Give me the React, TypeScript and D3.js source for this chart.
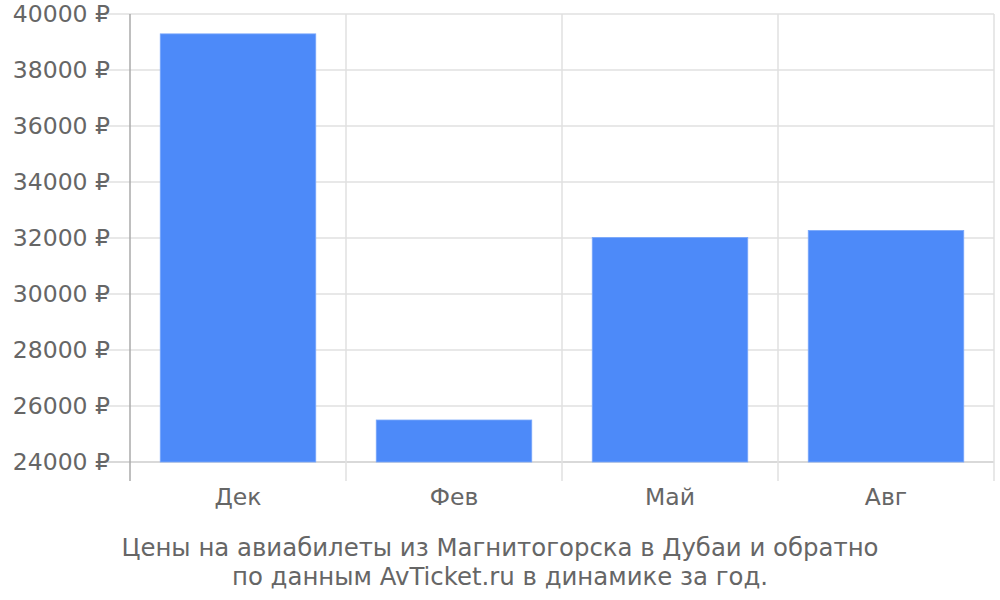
import { useMemo } from "react";
import * as d3 from "d3";

const months = ["Дек", "Фев", "Май", "Авг"];
const prices = [39290, 25500, 32020, 32270];
const yTicks = [24000, 26000, 28000, 30000, 32000, 34000, 36000, 38000, 40000];
const titleLines = [
  "Цены на авиабилеты из Магнитогорска в Дубаи и обратно",
  "по данным AvTicket.ru в динамике за год.",
];

const width = 1000;
const height = 600;
const margin = { top: 14, right: 6, bottom: 138, left: 130 };

const App = () => {
  const innerW = width - margin.left - margin.right;
  const innerH = height - margin.top - margin.bottom;

  const x = useMemo(
    () => d3.scaleBand<string>().domain(months).range([0, innerW]),
    [innerW]
  );
  const xBar = useMemo(
    () =>
      d3
        .scaleBand<string>()
        .domain(months)
        .range([0, innerW])
        .paddingInner(0.28)
        .paddingOuter(0.14),
    [innerW]
  );
  const y = useMemo(
    () => d3.scaleLinear().domain([24000, 40000]).range([innerH, 0]),
    [innerH]
  );

  const font = "'DejaVu Sans', sans-serif";
  const bounds = [...months.map((m) => x(m) ?? 0), innerW];

  return (
    <div style={{ position: "absolute", left: 0, top: 0 }}>
      <svg width={width} height={height} style={{ display: "block" }}>
        <rect width={width} height={height} fill="#fff" />
        <g transform={`translate(${margin.left},${margin.top})`}>
          {/* horizontal grid */}
          {yTicks.map((t) => (
            <line
              key={t}
              x1={-26}
              x2={innerW}
              y1={y(t)}
              y2={y(t)}
              stroke={t === 24000 ? "#cccccc" : "#e0e0e0"}
              strokeWidth={1.5}
            />
          ))}
          {/* vertical grid + category ticks */}
          {bounds.map((b, i) => (
            <line
              key={i}
              x1={b}
              x2={b}
              y1={0}
              y2={innerH + 19}
              stroke={i === 0 ? "#aaaaaa" : "#e0e0e0"}
              strokeWidth={1.5}
            />
          ))}
          {prices.map((p, i) => (
            <rect
              key={months[i]}
              x={xBar(months[i])}
              y={y(p)}
              width={xBar.bandwidth()}
              height={innerH - y(p)}
              fill="#4d8af9"
              stroke="#7aa8fb"
              strokeWidth={0.8}
            />
          ))}
          {yTicks.map((t) => (
            <text
              key={t}
              x={-20}
              y={y(t)}
              dy="0.35em"
              textAnchor="end"
              fontFamily={font}
              fontSize={23.5}
              fill="#666666"
            >
              {`${t} ₽`}
            </text>
          ))}
          {months.map((m) => (
            <text
              key={m}
              x={(x(m) ?? 0) + x.bandwidth() / 2}
              y={innerH + 43}
              textAnchor="middle"
              fontFamily={font}
              fontSize={23.5}
              fill="#666666"
            >
              {m}
            </text>
          ))}
        </g>
        {titleLines.map((line, i) => (
          <text
            key={i}
            x={500}
            y={556 + i * 29}
            textAnchor="middle"
            fontFamily={font}
            fontSize={24.4}
            fill="#666666"
          >
            {line}
          </text>
        ))}
      </svg>
    </div>
  );
};

export default App;
